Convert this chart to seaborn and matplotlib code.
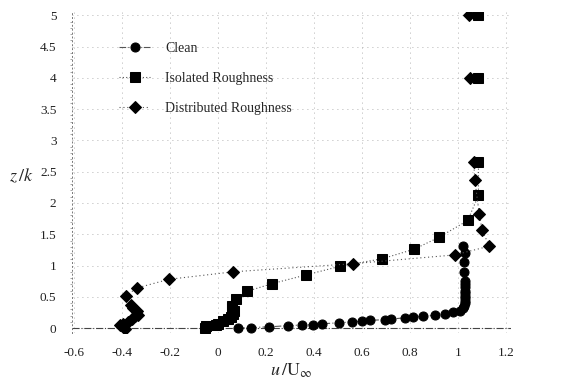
import numpy as np
import pandas as pd
import matplotlib
matplotlib.use("Agg")
import matplotlib.pyplot as plt
import seaborn as sns
from matplotlib.ticker import MultipleLocator

# Velocity profiles (u/U_inf, z/k)
clean_u = [0.083, 0.139, 0.211, 0.292, 0.351, 0.396, 0.435, 0.503, 0.56, 0.60,
           0.635, 0.695, 0.722, 0.778, 0.812, 0.854, 0.903, 0.944, 0.979, 1.007,
           1.021, 1.026, 1.028, 1.029, 1.029, 1.029, 1.029, 1.029, 1.028, 1.028,
           1.027, 1.026, 1.025, 1.03, 1.02]
clean_z = [0.0, 0.01, 0.02, 0.04, 0.05, 0.055, 0.07, 0.085, 0.10, 0.11,
           0.125, 0.135, 0.145, 0.165, 0.175, 0.19, 0.205, 0.23, 0.25, 0.28,
           0.32, 0.36, 0.40, 0.44, 0.48, 0.52, 0.56, 0.60, 0.65, 0.70,
           0.76, 0.90, 1.06, 1.20, 1.31]

iso_u = [-0.055, -0.05, -0.007, 0.0, 0.02, 0.04, 0.055, 0.062, 0.065, 0.057,
         0.058, 0.076, 0.122, 0.224, 0.366, 0.51, 0.685, 0.816, 0.92, 1.04,
         1.085, 1.085, 1.085, 1.085]
iso_z = [0.0, 0.04, 0.05, 0.07, 0.11, 0.14, 0.17, 0.22, 0.27, 0.32,
         0.36, 0.46, 0.59, 0.71, 0.85, 0.99, 1.11, 1.26, 1.45, 1.72,
         2.12, 2.65, 4.0, 5.0]

dist_u = [-0.39, -0.41, -0.395, -0.375, -0.36, -0.347, -0.333, -0.34, -0.355, -0.364,
          -0.385, -0.34, -0.205, 0.0625, 0.5625, 0.986, 1.13, 1.10, 1.088, 1.07,
          1.065, 1.05, 1.045]
dist_z = [-0.02, 0.05, 0.07, 0.10, 0.15, 0.19, 0.21, 0.27, 0.32, 0.37,
          0.51, 0.64, 0.78, 0.90, 1.03, 1.17, 1.31, 1.57, 1.83, 2.36,
          2.66, 4.0, 5.0]

x_ticks = [-0.6, -0.4, -0.2, 0, 0.2, 0.4, 0.6, 0.8, 1, 1.2]
y_ticks = [0, 0.5, 1, 1.5, 2, 2.5, 3, 3.5, 4, 4.5, 5]

series = [
    ("Clean", clean_u, clean_z, "o", (0, (6, 2, 1, 2))),
    ("Isolated Roughness", iso_u, iso_z, "s", (0, (1, 2))),
    ("Distributed Roughness", dist_u, dist_z, "D", (0, (1, 2.5))),
]

sns.set_style("white")
plt.rcParams["font.family"] = ["Liberation Serif", "DejaVu Serif"]
plt.rcParams["mathtext.fontset"] = "stix"

fig = plt.figure(figsize=(5.74, 3.91), dpi=100)
ax = fig.add_axes([0.125, 0.148, 0.765, 0.821])

# z = 0 reference line
ax.axhline(0, color="#444444", lw=0.8, ls="-.", zorder=1)

for label, u, z, mk, ls in series:
    df = pd.DataFrame({"u": u, "z": z})
    # the isolated points high above the profile are not joined by the line
    seg = np.arange(len(df))
    df["seg"] = np.where(df["z"] < 3, 0, seg)
    sns.lineplot(data=df, x="u", y="z", units="seg", sort=False, estimator=None, ax=ax,
                 color="#555555", lw=0.8, linestyle=ls, marker=mk,
                 markersize=6.5 if mk != "D" else 6, markerfacecolor="black",
                 markeredgecolor="black", label=label, zorder=3)

ax.set_xlim(-0.61, 1.22)
ax.set_ylim(-0.08, 5.05)
ax.set_xticks(x_ticks)
ax.set_xticklabels([f"{t:g}" for t in x_ticks])
ax.set_yticks(y_ticks)
ax.set_yticklabels([f"{t:g}" for t in y_ticks])
ax.yaxis.set_minor_locator(MultipleLocator(0.1))
ax.tick_params(axis="both", labelsize=9.5, colors="#222222")
ax.tick_params(axis="x", length=0, pad=10)
ax.tick_params(axis="y", which="major", length=3, width=0.6, color="#777777", pad=8)
ax.tick_params(axis="y", which="minor", length=1.5, width=0.6, color="#999999", left=True)

ax.grid(True, color="#999999", ls=(0, (1, 5)), lw=0.6)
for side in ["top", "right", "bottom"]:
    ax.spines[side].set_visible(False)
ax.spines["left"].set_linestyle((0, (1, 3)))
ax.spines["left"].set_color("#777777")
ax.spines["left"].set_linewidth(0.7)

ax.set_xlabel(r"$u\,/\mathrm{U}_{\infty}$", fontsize=13, labelpad=2)
ax.set_ylabel(r"$z\,/k$", fontsize=13, rotation=0, labelpad=14)
ax.yaxis.set_label_coords(-0.115, 0.46)

# one legend entry per series
handles, labels = ax.get_legend_handles_labels()
uniq = {}
for h, l in zip(handles, labels):
    uniq.setdefault(l, h)
ax.legend(list(uniq.values()), list(uniq.keys()), loc="upper left",
          bbox_to_anchor=(0.08, 0.945), frameon=False,
          fontsize=10, labelspacing=1.2, handlelength=2.2, handletextpad=1.1)

fig.savefig("out.png", dpi=100)
